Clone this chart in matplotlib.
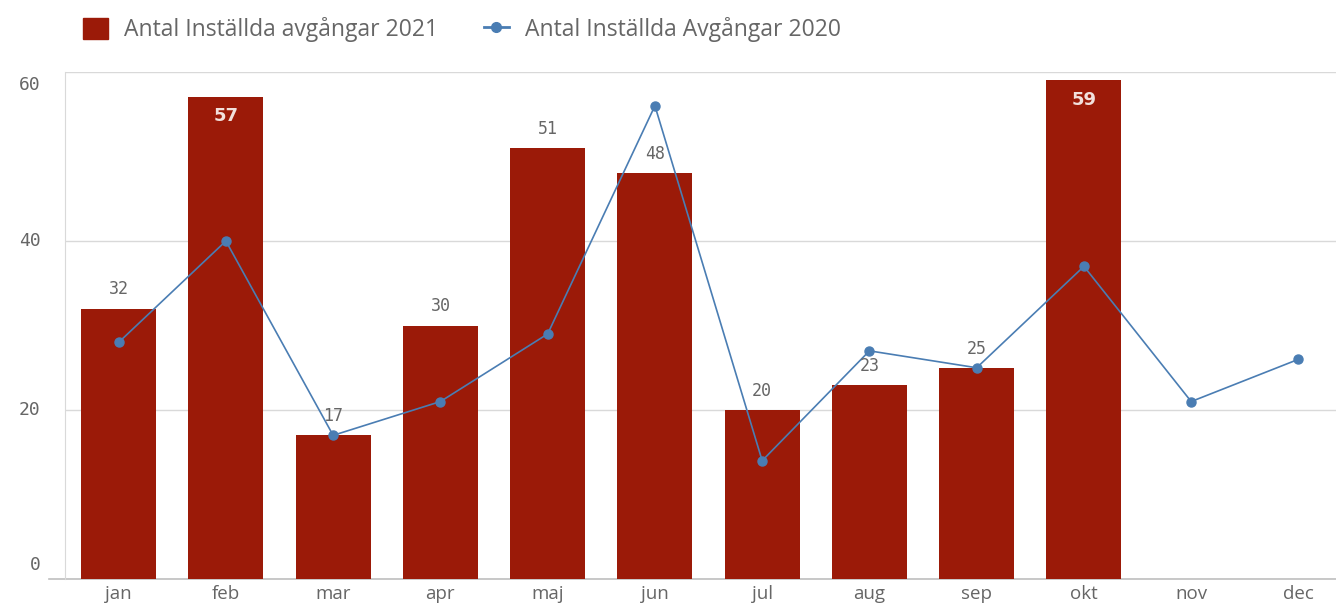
import numpy as np
import matplotlib.pyplot as plt
from matplotlib.lines import Line2D
from matplotlib.patches import Patch

# Data
months = ['jan', 'feb', 'mar', 'apr', 'maj', 'jun', 'jul', 'aug', 'sep', 'okt', 'nov', 'dec']
inst_2021 = [32, 57, 17, 30, 51, 48, 20, 23, 25, 59]
inst_2020 = [28, 40, 17, 21, 29, 56, 14, 27, 25, 37, 21, 26]
yticks = [0, 20, 40, 60]

bar_col = '#9B1A08'
line_col = '#4A7DB3'
txt_col = '#666666'
grid_col = '#D9D9D9'
mono = 'DejaVu Sans Mono'

fig = plt.figure(figsize=(13.36, 6.15), dpi=100)
ax = fig.add_axes([65 / 1336, 36 / 615, 1271 / 1336, 507 / 615])

x = np.arange(len(months))
xb = x[:len(inst_2021)]
ax.bar(xb, inst_2021, width=0.70, color=bar_col, zorder=2)
ax.plot(x, inst_2020, color=line_col, lw=1.2, marker='o', ms=6.5, zorder=3)

# value labels
for xi, v in zip(xb, inst_2021):
    if v >= 55:
        ax.text(xi, v - 1.2, str(v), ha='center', va='top', color='#F2E0DC',
                fontsize=13, fontweight='bold', family='DejaVu Sans', zorder=4)
    else:
        ax.text(xi, v + 1.2, str(v), ha='center', va='bottom', color=txt_col,
                fontsize=12, family=mono, zorder=4)

ax.set_xlim(-0.5, 11.35)
ax.set_ylim(0, 60)
ax.set_yticks(yticks)
ax.set_yticklabels([])
for t in yticks:
    ax.axhline(t, color=grid_col, lw=1, zorder=1)
    off = {0: 1.7, 60: -1.5}.get(t, 0)
    ax.text(-0.73, t + off, str(t), ha='right', va='center',
            fontsize=13, color=txt_col, family=mono)
ax.tick_params(axis='y', length=0)
ax.set_xticks(x)
ax.set_xticklabels(months, fontsize=13.5, color=txt_col, family='Open Sans')
ax.tick_params(axis='x', length=0, pad=4)
for s in ['top', 'right', 'bottom']:
    ax.spines[s].set_visible(False)
ax.spines['left'].set_color(grid_col)
ax.plot([-0.65, 11.35], [0, 0], color='#BFBFBF', lw=1.2, clip_on=False, zorder=1)

handles = [Patch(color=bar_col), Line2D([0], [0], color=line_col, marker='o', ms=7, lw=2)]
labels = ['Antal Inställda avgångar 2021', 'Antal Inställda Avgångar 2020']
leg = fig.legend(handles, labels, loc='center left', bbox_to_anchor=(62 / 1336, 1 - 30 / 615),
                 ncol=2, frameon=False, fontsize=16.5, handlelength=1.1, handleheight=1.0,
                 columnspacing=2.0, handletextpad=0.7)
for t in leg.get_texts():
    t.set_color(txt_col)
    t.set_family('Open Sans')

fig.savefig('out.png', dpi=100)
